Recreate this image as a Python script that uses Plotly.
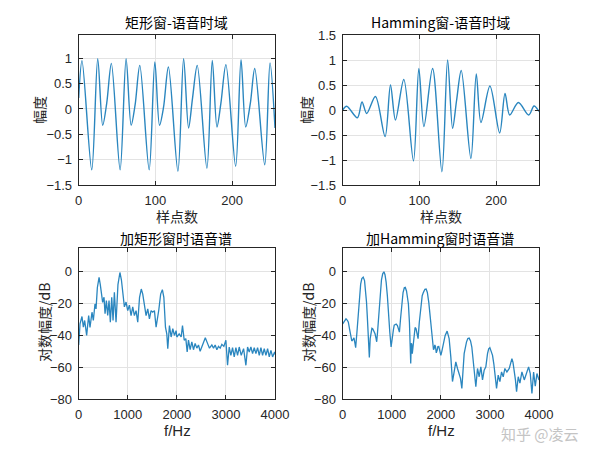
import plotly.graph_objects as go

# ---------------- data ----------------
# time-domain frame, rectangular window (sample index, amplitude)
t_rect = [0, 4.3, 17, 24.8, 31.3, 36.6, 42.6, 54, 61.8, 68.4,
          73.6, 79.7, 91.9, 99.3, 105.4, 110.6, 117, 129.4, 136.8, 143.3,
          148.5, 154.6, 167.2, 174.2, 180.3, 185.5, 192, 204.7, 211.7, 217.8,
          223.9, 229.6, 242.6, 249.5, 256]
y_rect = [0.22, 0.955, -1.2, 0.99, -0.32, 0.12, 0.9, -1.2, 0.99, -0.32,
          0.085, 0.86, -1.2, 0.93, -0.32, 0.03, 0.83, -1.23, 0.99, -0.375,
          0.22, 0.86, -1.17, 0.96, -0.355, 0.12, 0.875, -1.13, 0.975, -0.355,
          0.12, 0.8, -1.1, 0.91, -0.375]

# time-domain frame, Hamming window
t_ham = [0, 5.2, 19.1, 25.2, 31.3, 42.7, 55.3, 62.3, 68.8, 79.7,
         92.3, 99.3, 105.9, 117.2, 129.4, 136.8, 143.3, 148.5, 154.6, 167.2,
         174.2, 180.3, 192, 204.7, 211.7, 217.8, 229.1, 242.6, 249.5, 256]
y_ham = [0, 0.075, -0.155, 0.16, -0.07, 0.27, -0.53, 0.5, -0.2, 0.61,
         -1.02, 0.83, -0.33, 0.83, -1.235, 1.0, -0.365, 0.19, 0.79, -0.97,
         0.72, -0.25, 0.48, -0.46, 0.33, -0.1, 0.15, -0.1, 0.08, -0.03]

# log spectrum, rectangular window (Hz, dB)
f_rect = [0, 27, 67, 95, 122, 162, 203, 230, 271, 298,
          332, 353, 380, 415, 440, 461, 488, 516, 537, 564,
          591, 618, 645, 673, 700, 727, 761, 800, 840, 870,
          898, 931, 965, 999, 1033, 1067, 1101, 1135, 1169, 1203,
          1240, 1275, 1305, 1339, 1373, 1407, 1441, 1475, 1509, 1543,
          1577, 1632, 1670, 1705, 1735, 1768, 1795, 1815, 1849, 1883,
          1917, 1951, 1985, 2000, 2047, 2088, 2115, 2150, 2183, 2210,
          2237, 2271, 2305, 2339, 2373, 2407, 2441, 2475, 2522, 2550,
          2580, 2625, 2665, 2713, 2747, 2781, 2815, 2849, 2883, 2917,
          2958, 2999, 3033, 3067, 3101, 3135, 3169, 3203, 3237, 3271,
          3312, 3360, 3407, 3441, 3475, 3509, 3543, 3577, 3611, 3645,
          3679, 3713, 3747, 3781, 3815, 3849, 3883, 3917, 3951, 3992,
          4000]
db_rect = [-46, -32.7, -28.1, -34.8, -30.6, -40, -27.5, -35, -25.4, -30.6,
           -20.2, -23.3, -10, -3.5, -8, -15, -19.2, -16, -26.4, -18.1,
           -27.5, -18.1, -31.7, -16, -30.6, -12.9, -31.7, -8, -0.4, -5,
           -14, -22, -19, -24.4, -21, -27.5, -22, -27.5, -24.4, -31.7,
           -16, -10.8, -14, -22, -27.5, -23.3, -29.6, -24.4, -25.4, -24.4,
           -34.8, -24, -14, -11.2, -16, -34.8, -39, -48.3, -33.8, -41,
           -35.8, -40, -37, -41, -39, -41, -33.8, -43, -42, -50.4,
           -43, -49, -44, -49, -45, -48, -46, -50, -46, -43,
           -41.5, -45, -48, -46, -48, -46, -49, -46.9, -48, -45.6,
           -46.9, -43, -58.8, -47.3, -52.5, -47.7, -53.5, -47.7, -52.5, -47.3,
           -52.5, -48.3, -58.8, -47.3, -50.4, -47.3, -51.5, -47.7, -51.5, -47.7,
           -52.5, -47.7, -52.5, -48.3, -52.5, -48.3, -53.5, -49.4, -53.5, -50.4,
           -52]

# log spectrum, Hamming window (Hz, dB)
f_ham = [0, 40, 67, 95, 115, 140, 162, 185, 203, 230,
         250, 264, 290, 319, 345, 366, 390, 418, 445, 465,
         485, 502, 525, 543, 560, 577, 595, 611, 635, 659,
         680, 693, 710, 741, 765, 790, 815, 840, 862, 885,
         910, 931, 960, 986, 1010, 1033, 1050, 1067, 1090, 1115,
         1140, 1156, 1180, 1203, 1230, 1255, 1275, 1300, 1320, 1339,
         1360, 1386, 1397, 1407, 1418, 1427, 1455, 1475, 1495, 1515,
         1536, 1560, 1591, 1620, 1645, 1675, 1700, 1725, 1754, 1780,
         1809, 1836, 1850, 1863, 1877, 1890, 1907, 1924, 1940, 1958,
         1985, 2000, 2020, 2047, 2088, 2128, 2169, 2203, 2237, 2271,
         2305, 2339, 2373, 2400, 2428, 2450, 2475, 2522, 2550, 2577,
         2605, 2631, 2655, 2679, 2713, 2747, 2781, 2815, 2849, 2883,
         2917, 2951, 2975, 2999, 3025, 3053, 3080, 3101, 3135, 3169,
         3203, 3237, 3271, 3305, 3346, 3394, 3425, 3448, 3470, 3496,
         3520, 3543, 3577, 3611, 3652, 3700, 3747, 3788, 3822, 3856,
         3890, 3924, 3958, 4000]
db_ham = [-32.7, -30.5, -29.6, -30.5, -31.7, -36, -41, -43.5, -43, -41.5,
          -45, -47.7, -38, -26.4, -14, -7.7, -4.2, -3.3, -5.5, -11,
          -19, -28.5, -40, -53.9, -42, -37.9, -35.5, -35.8, -37, -39,
          -42, -44, -38, -25.4, -13, -5, -1.2, 0, -1.8, -6.5,
          -15, -26.4, -38, -47.3, -40, -36.5, -33.5, -33.1, -32.8, -33.8,
          -36.5, -37.9, -29, -21.3, -13, -10, -9.8, -12, -16, -20.2,
          -32, -57.7, -45, -45.5, -51.5, -48, -37.9, -35, -35.8, -39,
          -42, -32, -22.3, -15, -12.9, -11, -10.8, -13, -19.2, -28,
          -39, -46.3, -49, -48.3, -46, -46.9, -51, -49.4, -47, -46.9,
          -51.5, -52.5, -50, -45.2, -40, -37.3, -42, -53.5, -69, -63,
          -56.7, -60.8, -64, -67, -73.3, -60, -51.5, -44.2, -42, -41.7,
          -43.5, -47.3, -54, -63, -72.3, -60.8, -66, -59.8, -68, -61.9,
          -59.8, -51.5, -48.5, -47.7, -49.5, -52.5, -58, -64, -73.3, -65,
          -69, -63, -66, -60.8, -63, -60.8, -56, -54.6, -57, -61.9,
          -68, -75.4, -66, -70, -63, -68, -64, -59.8, -64, -76.5,
          -63, -72, -64, -68]

titles = ["矩形窗-语音时域", "Hamming窗-语音时域", "加矩形窗时语音谱", "加Hamming窗时语音谱"]
time_ticks = [0, 100, 200]
freq_ticks = [0, 1000, 2000, 3000, 4000]
amp_ticks_left = [-1.5, -1, -0.5, 0, 0.5, 1]
amp_ticks_right = [-1.5, -1, -0.5, 0, 0.5, 1, 1.5]
db_ticks = [-80, -60, -40, -20, 0]

# ---------------- figure ----------------
W, H = 600, 450
OFF = 8  # page body margin offset in the screenshot
LINE = "#2a86bf"
TXT = "#262626"
FONT = "Liberation Sans, Arial, Noto Sans CJK SC, sans-serif"
CJK = "Noto Sans CJK SC, Liberation Sans, sans-serif"

fig = go.Figure()
fig.add_trace(go.Scatter(x=t_rect, y=y_rect, mode="lines", xaxis="x", yaxis="y",
                         line=dict(color=LINE, width=1.4, shape="spline", smoothing=0.9)))
fig.add_trace(go.Scatter(x=t_ham, y=y_ham, mode="lines", xaxis="x2", yaxis="y2",
                         line=dict(color=LINE, width=1.4, shape="spline", smoothing=0.9)))
fig.add_trace(go.Scatter(x=f_rect, y=db_rect, mode="lines", xaxis="x3", yaxis="y3",
                         line=dict(color=LINE, width=1.3)))
fig.add_trace(go.Scatter(x=f_ham, y=db_ham, mode="lines", xaxis="x4", yaxis="y4",
                         line=dict(color=LINE, width=1.3)))


def ax(domain, anchor, rng, tickvals):
    return dict(domain=domain, anchor=anchor, range=rng, tickvals=tickvals,
                showline=True, linecolor=TXT, linewidth=1, mirror="ticks",
                ticks="inside", ticklen=4, tickcolor=TXT,
                showgrid=True, gridcolor="#e3e3e3", gridwidth=1, zeroline=False,
                tickfont=dict(family=FONT, size=13, color=TXT),
                ticklabelstandoff=3, fixedrange=True, automargin=False)


def dx(a, b):
    return [(a - OFF) / W, (b - OFF) / W]


def dy(top, bottom):
    return [1 - (bottom - OFF) / H, 1 - (top - OFF) / H]


xl = dx(78.7, 275)
xr = dx(342.7, 539)
yt = dy(35, 185)
yb = dy(248, 399)

fig.update_layout(
    width=W, height=H, margin=dict(l=0, r=0, t=0, b=0, pad=0, autoexpand=False),
    paper_bgcolor="white", plot_bgcolor="white", showlegend=False,
    xaxis=ax(xl, "y", [0, 256], time_ticks),
    yaxis=ax(yt, "x", [-1.5, 1.46], amp_ticks_left),
    xaxis2=ax(xr, "y2", [0, 256], time_ticks),
    yaxis2=ax(yt, "x2", [-1.5, 1.5], amp_ticks_right),
    xaxis3=ax(xl, "y3", [0, 4000], freq_ticks),
    yaxis3=ax(yb, "x3", [-80, 15], db_ticks),
    xaxis4=ax(xr, "y4", [0, 4000], freq_ticks),
    yaxis4=ax(yb, "x4", [-80, 15], db_ticks),
)


def txt(s, x, y, size=14, angle=0, color="#000000", family=CJK):
    fig.add_annotation(text=s, x=(x - OFF) / W, y=1 - (y - OFF) / H,
                       xref="paper", yref="paper",
                       showarrow=False, textangle=angle, xanchor="center", yanchor="middle",
                       font=dict(family=family, size=size, color=color))


# subplot titles
txt(titles[0], 176, 22)
txt(titles[1], 440, 22)
txt(titles[2], 176, 238)
txt(titles[3], 440, 238)
# axis titles
txt("样点数", 177, 216, size=14, color=TXT)
txt("样点数", 441, 216, size=14, color=TXT)
txt("f/Hz", 177, 430, size=15, color=TXT, family=FONT)
txt("f/Hz", 441, 430, size=15, color=TXT, family=FONT)
txt("幅度", 39, 110, size=14, angle=-90, color=TXT)
txt("幅度", 306, 110, size=14, angle=-90, color=TXT)
txt("对数幅度/dB", 44, 323, size=14, angle=-90, color=TXT)
txt("对数幅度/dB", 308, 323, size=14, angle=-90, color=TXT)
# watermark
txt("知乎 @凌云", 540, 433, size=15, color="#c4c4c4")

fig.write_html("out.html")
